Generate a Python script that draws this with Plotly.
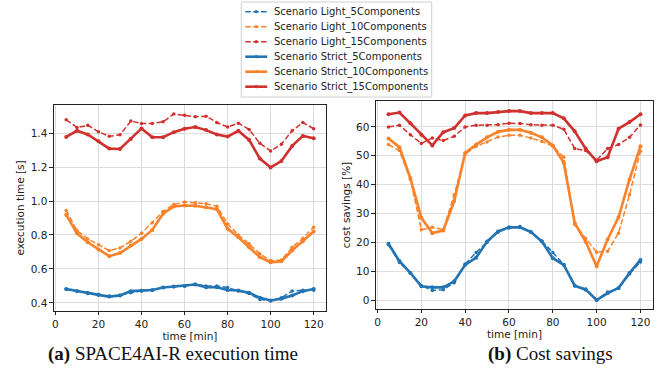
import plotly.graph_objects as go

W, H = 672, 381

time_min = [5, 10, 15, 20, 25, 30, 35, 40, 45, 50, 55, 60, 65, 70, 75, 80, 85, 90, 95, 100, 105, 110, 115, 120]

# execution time [s]
exec_light_5 = [0.480, 0.470, 0.460, 0.450, 0.440, 0.445, 0.460, 0.470, 0.475, 0.490, 0.495, 0.500, 0.510, 0.500, 0.500, 0.490, 0.470, 0.455, 0.420, 0.412, 0.430, 0.470, 0.475, 0.475]
exec_light_10 = [0.945, 0.826, 0.777, 0.742, 0.708, 0.724, 0.763, 0.810, 0.872, 0.939, 0.980, 0.994, 0.990, 0.984, 0.970, 0.866, 0.800, 0.748, 0.689, 0.649, 0.653, 0.728, 0.781, 0.846]
exec_light_15 = [1.479, 1.434, 1.446, 1.408, 1.382, 1.390, 1.471, 1.457, 1.457, 1.467, 1.513, 1.505, 1.497, 1.500, 1.463, 1.436, 1.459, 1.422, 1.340, 1.295, 1.335, 1.414, 1.463, 1.426]
exec_strict_5 = [0.482, 0.469, 0.457, 0.447, 0.437, 0.443, 0.469, 0.471, 0.476, 0.490, 0.496, 0.500, 0.508, 0.492, 0.492, 0.476, 0.473, 0.459, 0.430, 0.414, 0.424, 0.443, 0.469, 0.482]
exec_strict_10 = [0.919, 0.810, 0.757, 0.714, 0.675, 0.694, 0.738, 0.777, 0.830, 0.925, 0.968, 0.974, 0.972, 0.964, 0.952, 0.836, 0.787, 0.728, 0.669, 0.639, 0.645, 0.708, 0.763, 0.820]
exec_strict_15 = [1.378, 1.414, 1.392, 1.352, 1.309, 1.307, 1.366, 1.428, 1.376, 1.376, 1.406, 1.426, 1.436, 1.418, 1.392, 1.380, 1.414, 1.360, 1.250, 1.198, 1.236, 1.325, 1.384, 1.370]

# cost savings [%]
cost_light_5 = [19.2, 13.0, 9.5, 5.0, 3.3, 3.6, 6.0, 12.5, 16.5, 20.0, 23.5, 25.0, 25.5, 23.5, 20.5, 16.5, 12.3, 5.0, 3.8, 0.0, 2.8, 4.0, 9.0, 13.2]
cost_light_10 = [53.9, 51.8, 41.8, 24.4, 25.2, 24.4, 36.5, 50.6, 53.3, 54.8, 56.5, 57.1, 57.1, 56.2, 55.0, 53.3, 49.5, 26.2, 21.3, 16.6, 16.9, 23.2, 36.5, 51.6]
cost_light_15 = [60.0, 60.6, 57.3, 54.3, 56.2, 55.3, 56.8, 60.0, 60.6, 60.6, 60.8, 61.3, 61.2, 60.8, 60.6, 60.6, 59.2, 52.5, 51.8, 48.5, 52.5, 53.9, 56.4, 60.7]
cost_strict_5 = [19.5, 13.5, 9.4, 4.8, 4.4, 4.4, 6.5, 12.2, 14.7, 20.3, 23.8, 25.2, 25.2, 23.6, 20.3, 14.5, 12.2, 5.0, 3.6, 0.0, 2.4, 4.2, 9.4, 13.9]
cost_strict_10 = [56.0, 53.0, 42.3, 28.5, 23.2, 24.1, 34.3, 51.0, 53.9, 56.4, 58.3, 59.0, 59.0, 58.0, 56.4, 53.6, 47.6, 26.7, 20.2, 11.7, 21.0, 28.7, 41.8, 53.3]
cost_strict_15 = [64.4, 65.0, 61.3, 57.3, 53.6, 58.2, 59.6, 64.0, 64.8, 64.8, 65.2, 65.5, 65.5, 64.8, 64.8, 64.8, 63.0, 58.5, 52.5, 48.1, 49.5, 59.4, 61.7, 64.4]

series_names = [
    "Scenario Light_5Components", "Scenario Light_10Components", "Scenario Light_15Components",
    "Scenario Strict_5Components", "Scenario Strict_10Components", "Scenario Strict_15Components",
]
x_ticks = [0, 20, 40, 60, 80, 100, 120]
exec_ticks = [0.4, 0.6, 0.8, 1.0, 1.2, 1.4]
cost_ticks = [0, 10, 20, 30, 40, 50, 60]
captions = ["<b>(a)</b> SPACE4AI-R execution time", "<b>(b)</b> Cost savings"]

BLUE, ORANGE, RED = "#2274b2", "#f9822a", "#d0302e"
colors = [BLUE, ORANGE, RED, BLUE, ORANGE, RED]
dashed = [True, True, True, False, False, False]
DASH = "5.5px,2.4px"

exec_data = [exec_light_5, exec_light_10, exec_light_15, exec_strict_5, exec_strict_10, exec_strict_15]
cost_data = [cost_light_5, cost_light_10, cost_light_15, cost_strict_5, cost_strict_10, cost_strict_15]

fig = go.Figure()
for data, xa, ya in [(exec_data, "x", "y"), (cost_data, "x2", "y2")]:
    for i, vals in enumerate(data):
        fig.add_trace(go.Scatter(
            x=time_min, y=vals, xaxis=xa, yaxis=ya, mode="lines+markers",
            name=series_names[i], showlegend=False,
            line=dict(color=colors[i], width=1.5 if dashed[i] else 2.6,
                      dash=DASH if dashed[i] else "solid"),
            marker=dict(color=colors[i], size=3.5 if dashed[i] else 4),
        ))

FONT = "DejaVu Sans"
axis_common = dict(
    showline=True, mirror=True, linecolor="#222", linewidth=0.8,
    ticks="outside", ticklen=3.5, tickwidth=0.8, tickcolor="#222",
    showgrid=True, gridcolor="#dcdcdc", gridwidth=0.8, zeroline=False,
    tickfont=dict(family=FONT, size=10.5, color="#222"),
    title_font=dict(family=FONT, size=10.5, color="#222"),
    title_standoff=3,
)

def px_x(v):
    return v / W

def px_y(v):
    return 1 - v / H

fig.update_layout(
    width=W, height=H, margin=dict(l=0, r=0, t=0, b=0),
    paper_bgcolor="white", plot_bgcolor="white", showlegend=False,
    xaxis=dict(domain=[px_x(52), px_x(325)], range=[-0.75, 125.75], anchor="y",
               tickvals=x_ticks, title_text="time [min]", **axis_common),
    yaxis=dict(domain=[px_y(311), px_y(105)], range=[0.352, 1.566], anchor="x",
               tickvals=exec_ticks, tickformat=".1f", title_text="execution time [s]", **axis_common),
    xaxis2=dict(domain=[px_x(375), px_x(653)], range=[-0.75, 125.75], anchor="y2",
                tickvals=x_ticks, title_text="time [min]", **axis_common),
    yaxis2=dict(domain=[px_y(309), px_y(101)], range=[-3.1, 69.0], anchor="x2",
                tickvals=cost_ticks, title_text="cost savings [%]", **axis_common),
)

# Legend (drawn manually to match the compact spacing of the original)
shapes = [dict(type="rect", xref="paper", yref="paper",
               x0=px_x(240), x1=px_x(431), y0=px_y(97), y1=px_y(2),
               line=dict(color="#d0d0d0", width=1), fillcolor="white", layer="above")]
annotations = []
for i, name in enumerate(series_names):
    yc = 11.7 + 15 * i
    shapes.append(dict(type="line", xref="paper", yref="paper",
                       x0=px_x(244), x1=px_x(266), y0=px_y(yc), y1=px_y(yc),
                       line=dict(color=colors[i], width=1.5 if dashed[i] else 2.6,
                                 dash=DASH if dashed[i] else "solid"), layer="above"))
    r = 1.6
    shapes.append(dict(type="circle", xref="paper", yref="paper",
                       x0=px_x(255 - r), x1=px_x(255 + r), y0=px_y(yc + r), y1=px_y(yc - r),
                       fillcolor=colors[i], line=dict(width=0), layer="above"))
    annotations.append(dict(text=name, xref="paper", yref="paper", x=px_x(271), y=px_y(yc),
                            xanchor="left", yanchor="middle", showarrow=False,
                            font=dict(family=FONT, size=10, color="#222")))

annotations.append(dict(text=captions[0], xref="paper", yref="paper", x=px_x(172), y=px_y(354),
                        xanchor="center", yanchor="middle", showarrow=False,
                        font=dict(family="Liberation Serif", size=19, color="#111")))
annotations.append(dict(text=captions[1], xref="paper", yref="paper", x=px_x(550), y=px_y(354),
                        xanchor="center", yanchor="middle", showarrow=False,
                        font=dict(family="Liberation Serif", size=19, color="#111")))

fig.update_layout(shapes=shapes, annotations=annotations)
fig.write_html("out.html", config={"displayModeBar": False},
               post_script="document.body.style.margin='0';document.body.style.overflow='hidden';")
